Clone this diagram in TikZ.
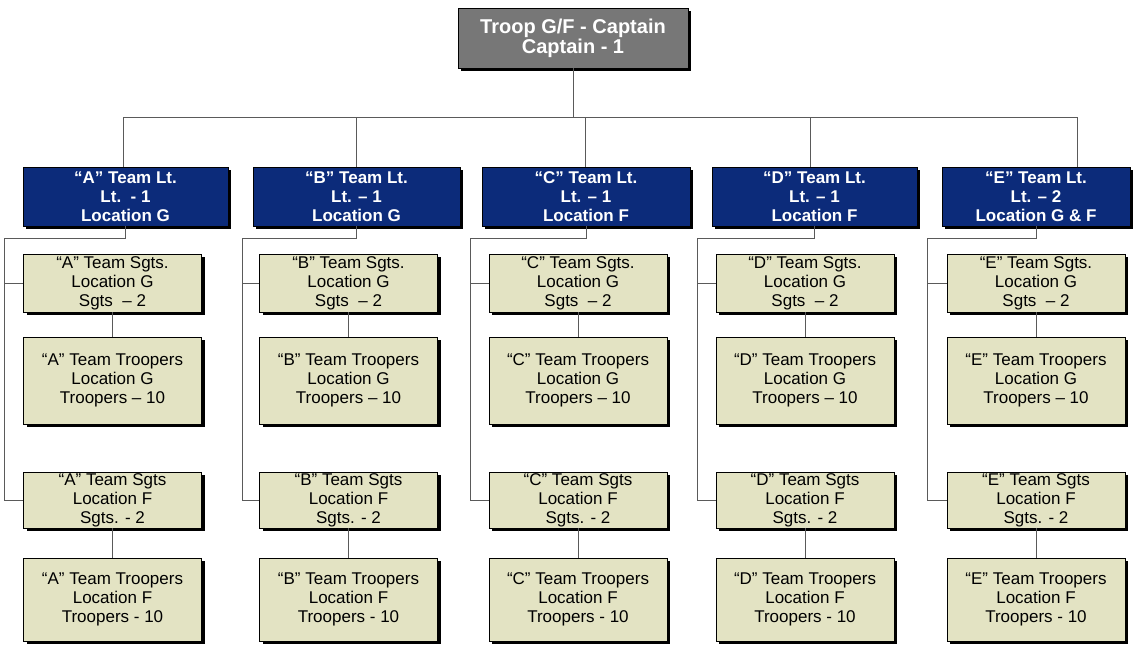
\documentclass[tikz,border=0pt]{standalone}
\usepackage{fontspec}
\setmainfont{Liberation Sans}
\usetikzlibrary{shadows}

\definecolor{ltnavy}{HTML}{0C2B7A}
\definecolor{capgray}{HTML}{777777}
\definecolor{sgtkhaki}{HTML}{E3E3C3}
\definecolor{wiregray}{HTML}{5A5A5A}

\tikzset{
  box/.style={draw=black, line width=0.8pt, align=center, inner sep=0pt,
    general shadow={fill=black, shadow xshift=3pt, shadow yshift=-3pt}},
  capbox/.style={box, fill=capgray, text=white,
    font=\fontsize{20}{20}\selectfont\bfseries,
    minimum width=230pt, minimum height=60pt},
  ltbox/.style={box, fill=ltnavy, text=white,
    font=\fontsize{17}{19}\selectfont\bfseries, minimum height=59pt},
  sgtbox/.style={box, fill=sgtkhaki, font=\fontsize{17}{19}\selectfont,
    minimum width=178pt},
  link/.style={draw=wiregray, line width=1pt}
}

\begin{document}
\begin{tikzpicture}[x=1pt, y=-1pt]
\useasboundingbox (0,0) rectangle (1139,645);
\node[capbox] (cap) at (573,38) {Troop G/F - Captain\\Captain - 1};
\coordinate (bus) at (573,117);
% one column per team
\foreach \c/\ltx/\ltw/\sgx/\brx/\bo/\ltn/\ltloc in {
    A/125.5/205/112.5/4/-2.5/{Lt.\ \ - 1}/G,
    B/356.5/207/348.5/242/0/{Lt. – 1}/G,
    C/586/208/578/470/-1/{Lt. – 1}/F,
    D/814.5/205/805/697/-4.5/{Lt. – 1}/F,
    E/1036/188/1036/927/41/{Lt. – 2}/{G \& F}}
{
  \node[ltbox, minimum width=\ltw pt] (lt\c) at (\ltx,196.5)
    {“\c” Team Lt.\\\ltn\\Location \ltloc};
  \node[sgtbox, minimum height=58pt] (sgG\c) at (\sgx,283)
    {“\c” Team Sgts.\\Location G\\Sgts\ \ – 2};
  \node[sgtbox, minimum height=87pt] (trG\c) at (\sgx,380.5)
    {“\c” Team Troopers\\Location G\\Troopers – 10};
  \node[sgtbox, minimum height=56pt] (sgF\c) at (\sgx,500)
    {“\c” Team Sgts\\Location F\\Sgts. - 2};
  \node[sgtbox, minimum height=83pt] (trF\c) at (\sgx,599.5)
    {“\c” Team Troopers\\Location F\\Troopers - 10};
  \coordinate (br\c) at (\brx,238);
  \draw[link] (cap.south) -- (bus) -| ([xshift=\bo pt]lt\c.north);
  \draw[link] (lt\c.south) |- (br\c) |- (sgF\c.west);
  \draw[link] (br\c |- sgG\c.west) -- (sgG\c.west);
  \draw[link] (sgG\c.south) -- (trG\c.north);
  \draw[link] (sgF\c.south) -- (trF\c.north);
}
\end{tikzpicture}
\end{document}
